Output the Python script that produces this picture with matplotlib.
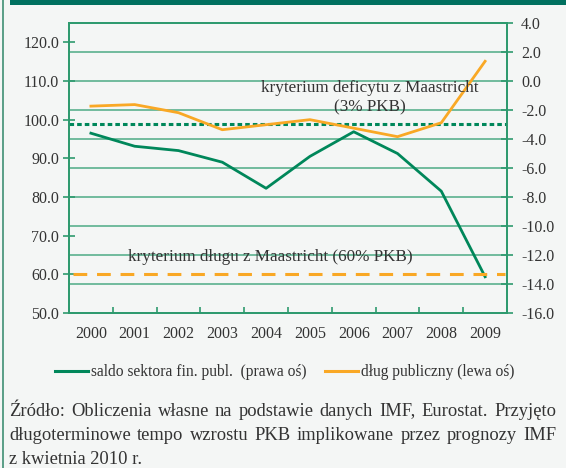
import numpy as np
import matplotlib
matplotlib.use("Agg")
import matplotlib.pyplot as plt
from matplotlib.lines import Line2D

plt.rcParams["font.family"] = ["Liberation Serif", "DejaVu Serif"]
plt.rcParams["axes.unicode_minus"] = False

GREEN = "#00875A"
ORANGE = "#F9A825"
GRID = "#4DAB85"
SPINE = "#2E9A6E"
TXT = "#333333"
BG = "#F4F6F5"

years = ["2000", "2001", "2002", "2003", "2004", "2005", "2006", "2007", "2008", "2009"]
saldo = [-3.6, -4.5, -4.8, -5.6, -7.4, -5.2, -3.5, -5.0, -7.6, -13.5]      # prawa oś
dlug = [103.5, 103.9, 101.8, 97.4, 98.7, 100.0, 97.8, 95.6, 99.2, 115.1]    # lewa oś
deficit_limit = -3.0
debt_limit = 60.0
left_ticks = [50, 60, 70, 80, 90, 100, 110, 120]
right_ticks = [-16, -14, -12, -10, -8, -6, -4, -2, 0, 2, 4]

fig = plt.figure(figsize=(5.66, 4.68), dpi=100, facecolor=BG)
ax1 = fig.add_axes([69/566, 1-313/468, 438/566, 290/468])
ax2 = ax1.twinx()
ax1.set_zorder(ax2.get_zorder() + 1)
ax1.patch.set_visible(False)
ax2.patch.set_facecolor(BG)

x = np.arange(len(years))
# right axis: saldo + grid
ax2.set_ylim(-16, 4)
ax2.set_yticks(right_ticks)
ax2.set_yticklabels([f"{v:.1f}" for v in right_ticks])
for v in right_ticks[1:-1]:
    ax2.axhline(v, color=GRID, lw=1.1, zorder=1)
ax2.plot(x, saldo, color=GREEN, lw=2.0, zorder=3)
ax2.axhline(deficit_limit, color=GREEN, lw=2.2, ls=(0, (1.5, 1.0)), zorder=3)

# left axis: debt
ax1.set_ylim(50, 125)
ax1.set_yticks(left_ticks)
ax1.set_yticklabels([f"{v:.1f}" for v in left_ticks])
ax1.plot(x, dlug, color=ORANGE, lw=2.0, zorder=3)
ax1.axhline(debt_limit, xmin=0.01, xmax=0.995, color=ORANGE, lw=2.2, ls=(0, (4.5, 3.2)), zorder=3)

ax1.set_xlim(-0.5, len(years) - 0.5)
ax1.set_xticks(x)
ax1.set_xticklabels(years)
ax1.set_xticks(np.arange(-0.5, len(years)), minor=True)
ax1.tick_params(axis="x", which="major", length=0, pad=9, labelsize=11.5, labelcolor=TXT)
ax1.tick_params(axis="x", which="minor", direction="in", length=4, color=SPINE, width=1.2)
ax1.tick_params(axis="y", direction="inout", length=8, color=SPINE, width=1.2, pad=3,
                labelsize=11.5, labelcolor=TXT)
ax2.tick_params(axis="y", direction="inout", length=8, color=SPINE, width=1.2, pad=6,
                labelsize=11.5, labelcolor=TXT)
for a in (ax1, ax2):
    for s in a.spines.values():
        s.set_color(SPINE)
        s.set_linewidth(1.3)

ax1.text(6.37, 105.7, "kryterium deficytu z Maastricht\n(3% PKB)", ha="center", va="center",
         fontsize=12.3, color=TXT, linespacing=1.3, zorder=5)
ax1.text(4.1, 64.5, "kryterium długu z Maastricht (60% PKB)", ha="center", va="center",
         fontsize=12.3, color=TXT, zorder=5)

handles = [Line2D([], [], color=GREEN, lw=2.2), Line2D([], [], color=ORANGE, lw=2.2)]
fig.legend(handles, ["saldo sektora fin. publ.  (prawa oś)", "dług publiczny (lewa oś)"],
           loc="center", bbox_to_anchor=(285/566, 1-372/468), ncol=2, frameon=False,
           fontsize=11.2, handlelength=2.1, handletextpad=0.2, columnspacing=1.2,
           labelcolor=TXT)

# frame decorations
fig.add_artist(plt.Rectangle((10/566, 1-5/468), 1, 5/468, transform=fig.transFigure,
                             color="#00705F", lw=0))
fig.add_artist(Line2D([3/566, 3/566], [0, 1], transform=fig.transFigure, color="#3F8F74", lw=1.2))

# justified source note
src_lines = ["Źródło: Obliczenia własne na podstawie danych IMF, Eurostat. Przyjęto",
             "długoterminowe tempo wzrostu PKB implikowane przez prognozy IMF",
             "z kwietnia 2010 r."]
src_y = [411, 436, 460]
x0, x1 = 9, 556
fs = 13.3
renderer = fig.canvas.get_renderer()
for i, (line, yy) in enumerate(zip(src_lines, src_y)):
    yf = 1 - yy / 468
    if i == len(src_lines) - 1:
        fig.text(x0 / 566, yf, line, fontsize=fs, color=TXT, va="center", ha="left")
        continue
    words = line.split(" ")
    ts = [fig.text(0, yf, w, fontsize=fs, color=TXT, va="center", ha="left") for w in words]
    widths = [t.get_window_extent(renderer).width for t in ts]
    gap = (x1 - x0 - sum(widths)) / (len(words) - 1)
    pos = x0
    for t, w in zip(ts, widths):
        t.set_x(pos / 566)
        pos += w + gap

fig.savefig("out.png", dpi=100, facecolor=BG)
